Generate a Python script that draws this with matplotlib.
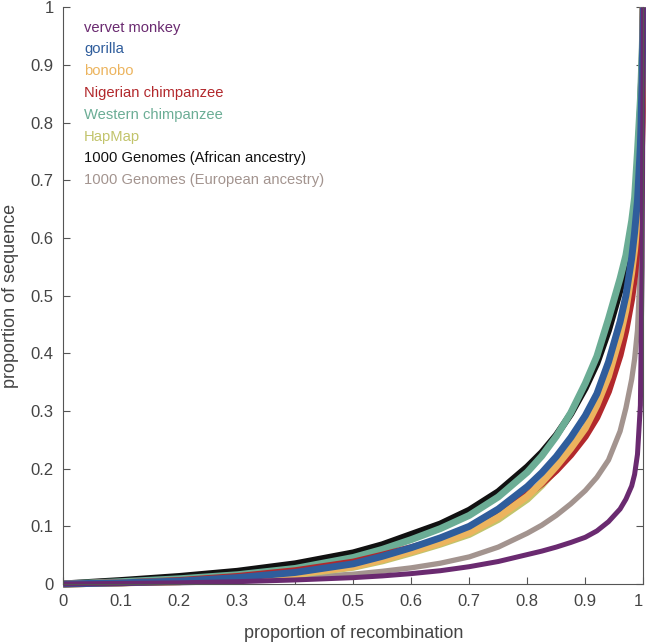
import matplotlib.pyplot as plt

plt.rcParams["font.family"] = ["Liberation Sans", "DejaVu Sans"]

# proportion of recombination (x) at which each curve was read
x_grid = [0, 0.1, 0.2, 0.3, 0.4, 0.5, 0.55, 0.6, 0.65, 0.7, 0.75, 0.8, 0.825,
          0.85, 0.875, 0.9, 0.92, 0.94, 0.96, 0.97, 0.98, 0.985, 0.99, 0.995,
          0.998, 1.0]

vervet = [0, 0.001, 0.002, 0.004, 0.007, 0.011, 0.014, 0.018, 0.023, 0.030,
          0.039, 0.051, 0.057, 0.064, 0.072, 0.081, 0.092, 0.108, 0.130, 0.147,
          0.170, 0.190, 0.225, 0.31, 0.55, 1.0]
gorilla = [0, 0.002, 0.005, 0.011, 0.020, 0.035, 0.048, 0.063, 0.080, 0.100,
           0.130, 0.169, 0.193, 0.221, 0.254, 0.292, 0.33, 0.385, 0.455, 0.50,
           0.565, 0.61, 0.665, 0.76, 0.88, 1.0]
bonobo = [0, 0.002, 0.004, 0.009, 0.017, 0.030, 0.042, 0.056, 0.071, 0.089,
          0.116, 0.152, 0.176, 0.204, 0.235, 0.27, 0.31, 0.36, 0.43, 0.475,
          0.54, 0.58, 0.635, 0.74, 0.86, 1.0]
nigerian = [0, 0.002, 0.006, 0.013, 0.023, 0.038, 0.050, 0.063, 0.077, 0.093,
            0.120, 0.155, 0.174, 0.197, 0.224, 0.256, 0.289, 0.334, 0.397, 0.44,
            0.495, 0.535, 0.59, 0.68, 0.80, 1.0]
western = [0, 0.004, 0.009, 0.016, 0.027, 0.046, 0.060, 0.077, 0.096, 0.119,
           0.151, 0.194, 0.222, 0.256, 0.297, 0.348, 0.395, 0.46, 0.53, 0.57,
           0.63, 0.67, 0.75, 0.84, 0.92, 1.0]
hapmap = [0, 0.002, 0.004, 0.009, 0.016, 0.029, 0.040, 0.054, 0.069, 0.086,
          0.112, 0.147, 0.171, 0.199, 0.228, 0.262, 0.30, 0.35, 0.42, 0.465,
          0.53, 0.57, 0.62, 0.72, 0.84, 1.0]
kg_african = [0, 0.006, 0.013, 0.022, 0.035, 0.054, 0.068, 0.086, 0.104, 0.128,
              0.160, 0.203, 0.228, 0.258, 0.295, 0.340, 0.383, 0.44, 0.51, 0.55,
              0.61, 0.65, 0.72, 0.82, 0.90, 1.0]
kg_european = [0, 0.002, 0.004, 0.007, 0.011, 0.017, 0.022, 0.028, 0.036, 0.047,
               0.064, 0.088, 0.102, 0.119, 0.139, 0.162, 0.185, 0.215, 0.265,
               0.305, 0.355, 0.39, 0.44, 0.55, 0.72, 1.0]

names = ["vervet monkey", "gorilla", "bonobo", "Nigerian chimpanzee",
         "Western chimpanzee", "HapMap", "1000 Genomes (African ancestry)",
         "1000 Genomes (European ancestry)"]
series = [vervet, gorilla, bonobo, nigerian, western, hapmap, kg_african, kg_european]
colors = ["#6a2a70", "#2f5d9c", "#ecb45e", "#b2282c", "#6bad95", "#c2c46c",
          "#111111", "#a3948f"]
widths = [3.6, 5.0, 5.0, 5.0, 5.0, 5.0, 5.0, 3.8]

tick_vals = [0, 0.1, 0.2, 0.3, 0.4, 0.5, 0.6, 0.7, 0.8, 0.9, 1]
tick_labels = ["0", "0.1", "0.2", "0.3", "0.4", "0.5", "0.6", "0.7", "0.8", "0.9", "1"]

fig = plt.figure(figsize=(6.46, 6.44), dpi=100)
ax = fig.add_axes([0.098, 0.0932, 0.8978, 0.8952])

# last entries drawn first so the curves overlap like the original
for ys, c, lw in reversed(list(zip(series, colors, widths))):
    ax.plot(x_grid, ys, color=c, lw=lw, solid_capstyle="butt",
            solid_joinstyle="round", clip_on=False)

ax.set_xlim(0, 1)
ax.set_ylim(0, 1)
ax.set_xticks(tick_vals)
ax.set_xticklabels(tick_labels)
ax.set_yticks(tick_vals)
ax.set_yticklabels(tick_labels)
# keep the last x label inside the figure edge
ax.get_xticklabels()[-1].set_horizontalalignment("right")

grey = "#444444"
ax.tick_params(direction="in", length=5, width=0.8, color="#555555",
               labelcolor=grey, labelsize=12, right=True, pad=7)
ax.spines["top"].set_visible(False)
for s in ["left", "bottom", "right"]:
    ax.spines[s].set_color("#555555")
    ax.spines[s].set_linewidth(0.8)

ax.set_xlabel("proportion of recombination", fontsize=13, color=grey, labelpad=12)
ax.set_ylabel("proportion of sequence", fontsize=13, color=grey, labelpad=8)

for i, (name, c) in enumerate(zip(names, colors)):
    ax.text(0.036, 0.965 - i * 0.0378, name, color=c, fontsize=10.6,
            transform=ax.transAxes, va="center", ha="left")

fig.savefig("out.png", dpi=100)
